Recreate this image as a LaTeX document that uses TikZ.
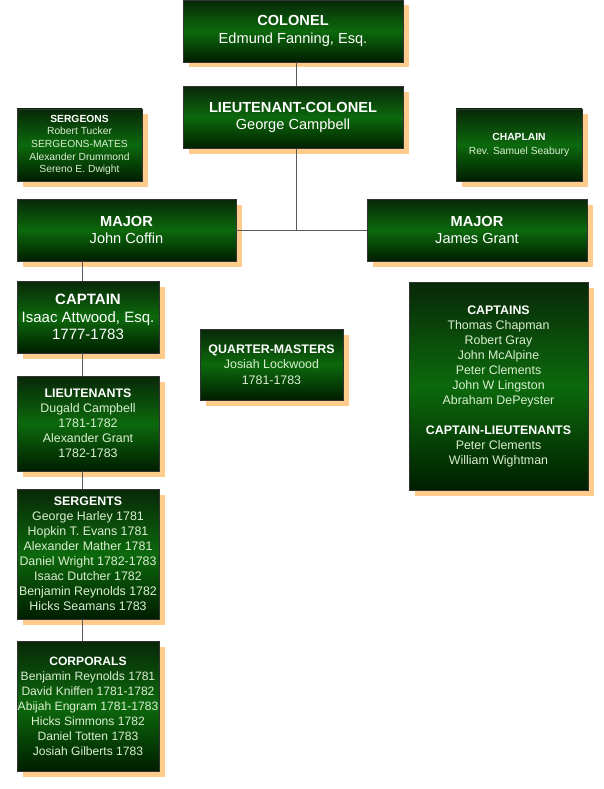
\documentclass[tikz,border=0pt]{standalone}
\usepackage{fontspec}
\setmainfont{Liberation Sans}
\usetikzlibrary{shadows}
\definecolor{gtop}{RGB}{8,40,8}
\definecolor{gmid}{RGB}{12,105,12}
\definecolor{gbot}{RGB}{0,30,0}
\definecolor{shadoworange}{RGB}{255,204,140}
\definecolor{namecol}{RGB}{218,238,210}
\definecolor{linecol}{RGB}{90,90,90}
\tikzset{
  box/.style={draw=black!80, line width=0.6pt, rectangle, inner sep=0pt, align=center,
    top color=gtop, bottom color=gbot, middle color=gmid, text=namecol,
    drop shadow={shadow xshift=5.5pt, shadow yshift=-5.5pt, fill=shadoworange, opacity=1}},
  conn/.style={draw=linecol, line width=0.9pt},
  fbig/.style={font=\fontsize{14.6}{17.5}\selectfont},
  fsmall/.style={font=\fontsize{10.3}{12.7}\selectfont},
  fmid/.style={font=\fontsize{12.4}{15}\selectfont},
}
\newcommand{\ttl}[1]{\textbf{\color{white}#1}}
\begin{document}
\begin{tikzpicture}[x=1pt,y=-1pt]
\useasboundingbox[fill=white] (0,0) rectangle (604,789);
\coordinate (trunk) at (296,0);
\coordinate (lt) at (82,0);
\node[box,fbig,minimum width=220pt,minimum height=62pt] (colonel) at (293,31)
  {\ttl{COLONEL}\\ \color{white}Edmund Fanning, Esq.};
\node[box,minimum width=220pt,minimum height=62pt,font=\fontsize{14.6}{16.5}\selectfont] (ltcol) at (293,117.5)
  {\ttl{LIEUTENANT-COLONEL}\\ \color{white}George Campbell};
\node[box,fsmall,minimum width=125pt,minimum height=72pt] (serg) at (79.5,145)
  {\ttl{SERGEONS}\\ Robert Tucker\\ SERGEONS-MATES\\ Alexander Drummond\\ Sereno E. Dwight};
\node[box,minimum width=126pt,minimum height=72pt,font=\fontsize{10.3}{14}\selectfont] (chap) at (519,145)
  {\ttl{CHAPLAIN}\\ Rev. Samuel Seabury};
\node[box,fbig,minimum width=219pt,minimum height=62pt] (majorA) at (126.5,230)
  {\ttl{MAJOR}\\ \color{white}John Coffin};
\node[box,fbig,minimum width=220pt,minimum height=62pt] (majorB) at (477,230)
  {\ttl{MAJOR}\\ \color{white}James Grant};
\node[box,minimum width=142pt,minimum height=72pt,font=\fontsize{15}{17.5}\selectfont] (captain) at (88,317)
  {\ttl{CAPTAIN}\\ \color{white}Isaac Attwood, Esq.\\ \color{white}1777-1783};
\node[box,minimum width=143pt,minimum height=71pt,font=\fontsize{12.4}{15.5}\selectfont] (qm) at (271.5,364.5)
  {\ttl{QUARTER-MASTERS}\\ Josiah Lockwood\\ 1781-1783};
\node[box,fmid,minimum width=179pt,minimum height=208pt] (captains) at (498.5,386)
  {\ttl{CAPTAINS}\\ Thomas Chapman\\ Robert Gray\\ John McAlpine\\ Peter Clements\\ John W Lingston\\ Abraham DePeyster\\[15pt] \ttl{CAPTAIN-LIEUTENANTS}\\ Peter Clements\\ William Wightman};
\node[box,fmid,minimum width=142pt,minimum height=95pt] (lieuts) at (88,423.5)
  {\ttl{LIEUTENANTS}\\ Dugald Campbell\\ 1781-1782\\ Alexander Grant\\ 1782-1783};
\node[box,fmid,minimum width=142pt,minimum height=130pt] (sergents) at (88,554)
  {\ttl{SERGENTS}\\ George Harley 1781\\ Hopkin T. Evans 1781\\ Alexander Mather 1781\\ Daniel Wright 1782-1783\\ Isaac Dutcher 1782\\ Benjamin Reynolds 1782\\ Hicks Seamans 1783};
\node[box,minimum width=142pt,minimum height=130pt,font=\fontsize{12.1}{15}\selectfont] (corporals) at (88,706)
  {\ttl{CORPORALS}\\ Benjamin Reynolds 1781\\ David Kniffen 1781-1782\\ Abijah Engram 1781-1783\\ Hicks Simmons 1782\\ Daniel Totten 1783\\ Josiah Gilberts 1783};
\draw[conn] (colonel.south -| trunk) -- (ltcol.north -| trunk);
\draw[conn] (ltcol.south -| trunk) |- (majorA.east);
\draw[conn] (ltcol.south -| trunk) |- (majorB.west);
\draw[conn] (majorA.south -| lt) -- (captain.north -| lt);
\draw[conn] (captain.south -| lt) -- (lieuts.north -| lt);
\draw[conn] (lieuts.south -| lt) -- (sergents.north -| lt);
\draw[conn] (sergents.south -| lt) -- (corporals.north -| lt);
\end{tikzpicture}
\end{document}
